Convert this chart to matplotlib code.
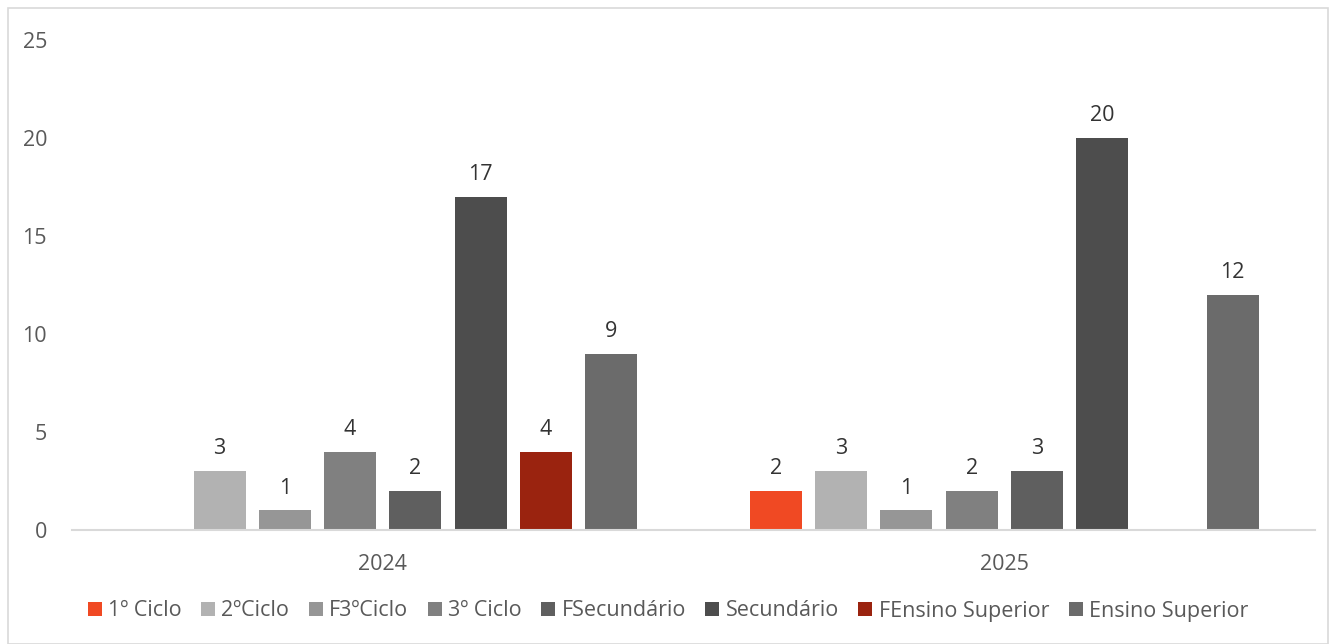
import matplotlib
matplotlib.use("Agg")
import matplotlib.pyplot as plt
import numpy as np
from matplotlib.patches import Rectangle

categories = ["2024", "2025"]
series_names = ["1º Ciclo", "2ºCiclo", "F3ºCiclo", "3º Ciclo", "FSecundário",
                "Secundário", "FEnsino Superior", "Ensino Superior"]
values_2024 = [None, 3, 1, 4, 2, 17, 4, 9]
values_2025 = [2, 3, 1, 2, 3, 20, None, 12]
colors = ["#F04923", "#B2B2B2", "#969696", "#808080", "#5F5F5F",
          "#4D4D4D", "#9A230F", "#6B6B6B"]
yticks = [0, 5, 10, 15, 20, 25]

plt.rcParams['font.family'] = ['Open Sans', 'DejaVu Sans']
fig = plt.figure(figsize=(13.36, 6.44), dpi=100)
ax = fig.add_axes([72/1336, 1 - 530/644, 1243/1336, 490/644])

n = len(series_names)
slot = 0.105
width = 0.084
x = np.arange(len(categories))
data = [values_2024, values_2025]
for i, name in enumerate(series_names):
    vals = [d[i] for d in data]
    xs = x + (i - (n - 1) / 2) * slot
    hv = [np.nan if v is None else v for v in vals]
    ax.bar(xs, hv, width, color=colors[i], label=name, linewidth=0)
    for xi, v in zip(xs, vals):
        if v is not None:
            ax.text(xi, v + 0.6, str(v), ha="center", va="bottom",
                    fontsize=15.5, color="#333333")

ax.set_xlim(-0.5, 1.5)
ax.set_ylim(0, 25)
ax.set_yticks(yticks)
ax.set_xticks(x)
ax.set_xticklabels(categories)
for s in ["top", "right", "left"]:
    ax.spines[s].set_visible(False)
ax.spines["bottom"].set_color("#D9D9D9")
ax.spines["bottom"].set_linewidth(1.5)
ax.tick_params(axis="both", length=0, labelsize=15.5, colors="#595959")
ax.tick_params(axis="y", pad=18)
ax.tick_params(axis="x", pad=17)

leg = fig.legend(loc="center", bbox_to_anchor=(0.5, 1 - 611/644), ncol=8,
                 frameon=False, fontsize=15.5, handlelength=0.65, handleheight=0.65,
                 handletextpad=0.3, columnspacing=0.9, labelcolor="#595959")

fig.patches.append(Rectangle((8/1336, 0), 1 - 16/1336, 1 - 8/644, transform=fig.transFigure,
                             fill=False, edgecolor="#D9D9D9", linewidth=1.2))
fig.savefig("out.png", dpi=100)
